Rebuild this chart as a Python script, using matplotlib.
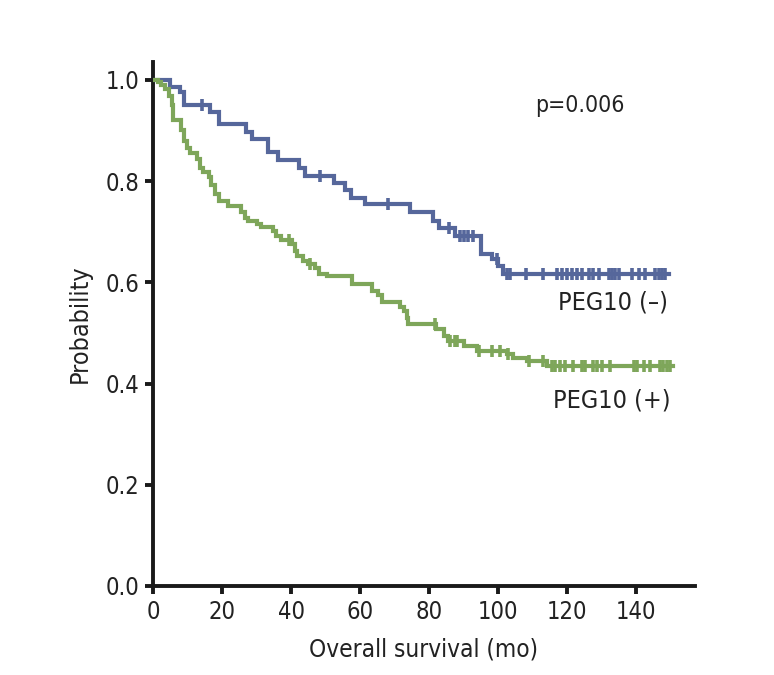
import numpy as np
import matplotlib
matplotlib.use("Agg")
import matplotlib.pyplot as plt

# ---- data ----
neg_times = [0, 4.8, 7.7, 9.0, 16.4, 19.0, 27.0, 28.7, 33.4, 36.2, 42.3, 44.1, 52.4, 55.6,
             57.3, 61.4, 74.5, 81.1, 83.0, 87.5, 95.0, 98.2, 100.0, 101.4]
neg_surv = [1.0, 0.985, 0.976, 0.951, 0.937, 0.912, 0.898, 0.883, 0.858, 0.841, 0.825, 0.810,
            0.797, 0.783, 0.767, 0.754, 0.739, 0.721, 0.707, 0.691, 0.655, 0.646, 0.632, 0.617]
neg_end = 149.4
neg_censor = [14.2, 48.4, 68.0, 85.9, 89.0, 90.0, 91.2, 92.8, 99.6, 102.5, 103.5, 108.0, 113.0,
              117.0, 118.4, 119.9, 121.4, 122.8, 124.3, 126.2, 127.6, 129.1, 132.0, 132.9,
              133.9, 134.9, 138.7, 140.7, 142.6, 145.5, 146.5, 147.4, 148.4]

pos_times = [0, 1.45, 2.4, 3.4, 4.5, 5.5, 5.8, 8.2, 9.0, 9.9, 10.6, 12.8, 13.5, 14.5, 16.1,
             16.9, 17.9, 19.0, 21.7, 25.6, 26.6, 27.5, 30.0, 31.4, 34.8, 35.7, 37.2, 40.2,
             41.2, 41.6, 43.6, 45.0, 47.0, 48.2, 50.3, 57.6, 63.4, 65.3, 66.3, 71.6, 72.8,
             73.7, 74.0, 82.1, 84.2, 85.6, 90.0, 93.8, 102.5, 104.4, 108.3, 114.1]
pos_surv = [1.0, 0.995, 0.989, 0.981, 0.969, 0.951, 0.920, 0.900, 0.879, 0.866, 0.856, 0.843,
            0.826, 0.817, 0.808, 0.793, 0.774, 0.760, 0.751, 0.738, 0.728, 0.721, 0.715, 0.709,
            0.701, 0.691, 0.683, 0.675, 0.662, 0.652, 0.642, 0.636, 0.629, 0.617, 0.612, 0.597,
            0.583, 0.575, 0.562, 0.551, 0.543, 0.530, 0.517, 0.507, 0.494, 0.484, 0.474, 0.465,
            0.458, 0.451, 0.445, 0.435]
pos_end = 150.8
pos_censor = [39.5, 45.5, 81.7, 86.1, 87.5, 88.0, 94.5, 98.2, 100.6, 103.0, 109.0, 113.0,
              115.6, 116.5, 118.0, 119.4, 121.8, 124.3, 125.2, 127.6, 128.6, 130.0, 132.5,
              139.3, 140.2, 142.2, 144.1, 147.0, 147.9, 148.9, 149.9]

x_ticks = [0, 20, 40, 60, 80, 100, 120, 140]
y_ticks = [0.0, 0.2, 0.4, 0.6, 0.8, 1.0]

blue = "#56679b"
green = "#7ea65a"

plt.rcParams["font.family"] = ["DejaVu Sans"]
plt.rcParams["font.stretch"] = "condensed"

fig = plt.figure(figsize=(7.74, 6.75), dpi=100)
ax = fig.add_axes([0.1977, 0.1319, 0.700, 0.776])


def draw(times, surv, end, censor, color):
    t = list(times) + [end]
    s = list(surv) + [surv[-1]]
    ax.step(t, s, where="post", color=color, lw=3.0, solid_joinstyle="miter", zorder=3)
    idx = np.searchsorted(np.array(times), np.array(censor), side="right") - 1
    cs = np.array(surv)[idx]
    ax.plot(censor, cs, linestyle="none", marker="|", markersize=9, markeredgewidth=2.6,
            color=color, zorder=3)


draw(neg_times, neg_surv, neg_end, neg_censor, blue)
draw(pos_times, pos_surv, pos_end, pos_censor, green)

ax.set_xlim(0, 157)
ax.set_ylim(0, 1.035)
ax.set_xticks(x_ticks)
ax.set_xticklabels([str(v) for v in x_ticks])
ax.set_yticks(y_ticks)
ax.set_yticklabels([f"{v:.1f}" for v in y_ticks])
for side in ["top", "right"]:
    ax.spines[side].set_visible(False)
for side in ["left", "bottom"]:
    ax.spines[side].set_linewidth(2.8)
    ax.spines[side].set_color("#1a1a1a")
ax.tick_params(axis="both", direction="out", length=6, width=2.8, color="#1a1a1a",
               labelsize=17, labelcolor="#222222", pad=4)

ax.set_xlabel("Overall survival (mo)", fontsize=17.5, color="#222222", labelpad=10)
ax.set_ylabel("Probability", fontsize=18, color="#222222", labelpad=10)

ax.text(110.7, 0.949, "p=0.006", fontsize=16.5, color="#222222", ha="left", va="center")
ax.text(149.3, 0.560, "PEG10 (–)", fontsize=18, color="#222222", ha="right", va="center")
ax.text(149.9, 0.367, "PEG10 (+)", fontsize=18, color="#222222", ha="right", va="center")

fig.savefig("out.png", dpi=100)
